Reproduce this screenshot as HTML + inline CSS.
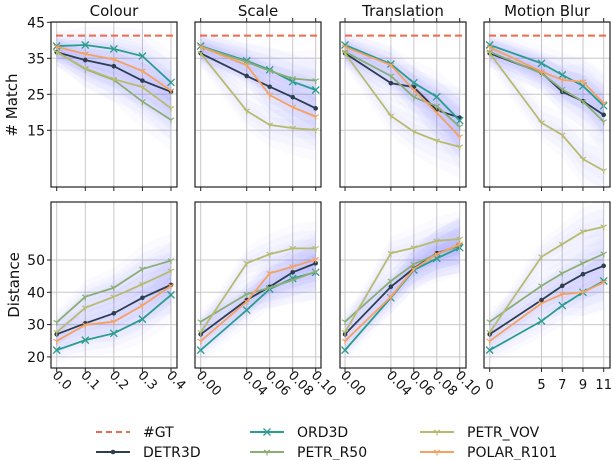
<!DOCTYPE html>
<html><head><meta charset="utf-8">
<style>
body{margin:0;background:#fff;}
svg{display:block;font-family:"DejaVu Sans","Liberation Sans",sans-serif;}
</style></head>
<body>
<svg id="chart" width="612" height="460" viewBox="0 0 612 460"></svg>
<script>
const panelTitles = ["Colour","Scale","Translation","Motion Blur"];
const xValues = [[0,0.1,0.2,0.3,0.4],[0,0.04,0.06,0.08,0.1],[0,0.04,0.06,0.08,0.1],[0,5,7,9,11]];
const xTickLabels = [["0.0","0.1","0.2","0.3","0.4"],["0.00","0.04","0.06","0.08","0.10"],["0.00","0.04","0.06","0.08","0.10"],["0","5","7","9","11"]];
const seriesNames = ["DETR3D","ORD3D","PETR_R50","PETR_VOV","POLAR_R101"];
const gtValue = 41.3;
const matchDETR3D = [[36.7,34.5,32.8,28.8,25.7],[36.4,30.1,27.1,24.2,21.1],[36.4,28.1,27.0,20.6,18.5],[36.4,31.0,25.7,23.1,19.3]];
const matchORD3D = [[38.4,38.7,37.6,35.6,28.3],[38.4,34.3,31.8,28.5,26.2],[38.7,33.4,28.2,24.3,17.7],[38.7,33.6,30.4,27.3,21.8]];
const matchPETR_R50 = [[36.8,32.0,29.0,23.0,17.9],[38.2,34.0,31.5,29.4,28.8],[36.8,30.1,24.2,21.7,16.0],[36.8,30.8,26.4,23.0,17.4]];
const matchPETR_VOV = [[36.7,32.2,29.2,27.0,21.1],[36.4,20.4,16.5,15.6,15.1],[36.4,19.0,14.6,12.1,10.4],[36.4,17.1,13.7,7.0,3.8]];
const matchPOLAR = [[38.2,36.2,34.7,31.5,26.0],[38.2,33.1,24.8,21.4,18.8],[38.2,33.1,26.2,19.9,13.2],[38.1,31.3,29.0,28.5,22.5]];
const distDETR3D = [[27.0,30.4,33.5,38.3,42.3],[27.0,37.6,41.7,46.2,49.0],[27.0,41.7,47.4,52.1,54.4],[27.0,37.6,42.0,45.6,48.2]];
const distORD3D = [[22.1,25.2,27.3,31.7,39.2],[22.1,34.5,41.0,44.3,46.2],[22.1,38.3,46.9,50.5,53.8],[22.1,31.1,35.9,40.0,43.5]];
const distPETR_R50 = [[30.7,38.6,41.4,47.2,49.8],[30.9,39.4,41.4,43.8,46.4],[30.9,43.5,48.7,51.8,54.6],[30.9,42.0,45.9,49.0,51.9]];
const distPETR_VOV = [[27.6,35.2,38.6,42.5,46.6],[27.6,49.0,51.8,53.6,53.6],[27.6,52.1,53.8,55.9,56.5],[27.6,51.0,54.9,58.8,60.3]];
const distPOLAR = [[24.9,29.9,30.9,35.9,42.0],[24.9,37.1,45.9,47.9,50.2],[24.9,38.6,47.2,51.8,54.9],[24.9,36.6,39.4,40.0,43.1]];
const matchTicks = [15,25,35,45];
const distTicks = [20,30,40,50];

const matchData=[matchDETR3D,matchORD3D,matchPETR_R50,matchPETR_VOV,matchPOLAR];
const distData=[distDETR3D,distORD3D,distPETR_R50,distPETR_VOV,distPOLAR];
const colors=["#2c3e50","#2a9d8f","#8aae74","#b8bb6e","#f4a261"];
const markers=["dot","x","tri","tri","tri"];
const NS="http://www.w3.org/2000/svg";
const svg=document.getElementById("chart");
function mk(tag,attrs,parent){const e=document.createElementNS(NS,tag);for(const k in attrs)e.setAttribute(k,attrs[k]);(parent||svg).appendChild(e);return e;}

const panelX=[[51,177],[195,321],[340,466],[484,610]];
const xRangeData=[[0,0.4],[0,0.1],[0,0.1],[0,11]];
const xPix=[[56.7,171],[200.7,315.7],[345,459.7],[489.7,603.7]];
function xs(p,v){const [d0,d1]=xRangeData[p],[r0,r1]=xPix[p];return r0+(v-d0)/(d1-d0)*(r1-r0);}
const rows=[{top:22,bot:187,ys:v=>22.3+(45-v)*3.6,ticks:matchTicks,data:matchData,label:"# Match",lab:"match"},
            {top:202,bot:368,ys:v=>260+(50-v)*3.23,ticks:distTicks,data:distData,label:"Distance",lab:"distance"}];

function marker(g,type,x,y,c){
  if(type==="dot"){mk("circle",{cx:x,cy:y,r:2.3,fill:c},g);}
  else if(type==="x"){mk("path",{d:`M${x-3.5},${y-3.5}L${x+3.5},${y+3.5}M${x-3.5},${y+3.5}L${x+3.5},${y-3.5}`,stroke:c,"stroke-width":1.3},g);}
  else{mk("path",{d:`M${x},${y}L${x},${y+3.5}M${x},${y}L${x-3},${y-2}M${x},${y}L${x+3},${y-2}`,stroke:c,"stroke-width":1.2},g);}
}

rows.forEach((row,ri)=>{
  for(let p=0;p<4;p++){
    const [L,R]=panelX[p];
    const pg=mk("g",{});
    
    
    row.ticks.forEach(t=>{const y=row.ys(t);mk("line",{x1:L,x2:R,y1:y,y2:y,stroke:"#c8c8c8","stroke-width":1},pg);});
    xValues[p].forEach(v=>{const x=xs(p,v);mk("line",{x1:x,x2:x,y1:row.top,y2:row.bot,stroke:"#c8c8c8","stroke-width":1},pg);});
    const clipId=`clip-${ri}-${p}`;
    const cp=mk("clipPath",{id:clipId},pg);
    mk("rect",{x:L,y:row.top,width:R-L,height:row.bot-row.top},cp);
    const bandG=mk("g",{"clip-path":`url(#${clipId})`},pg);
    row.data.forEach((s,si)=>{
      const vals=s[p];
      for(let k=1;k<=3;k++){
        const w=k*1.3;
        let d="";
        vals.forEach((v,i)=>{d+=(i?"L":"M")+xs(p,xValues[p][i])+","+row.ys(v+w*(1+i*0.3));});
        for(let i=vals.length-1;i>=0;i--)d+="L"+xs(p,xValues[p][i])+","+row.ys(vals[i]-w*(1+i*0.3));
        const b=mk("path",{d:d+"Z",fill:"#6b6bff","fill-opacity":0.032},bandG);
        
        
      }
    });
    if(ri===0){
      const gl=mk("line",{x1:L+5,x2:R-3,y1:row.ys(gtValue),y2:row.ys(gtValue),stroke:"#ee6a4d","stroke-width":2,"stroke-dasharray":"7,4"},pg);
      
      
    }
    row.data.forEach((s,si)=>{
      const vals=s[p];
      const sg=mk("g",{},pg);
      
      
      const pts=vals.map((v,i)=>xs(p,xValues[p][i])+","+row.ys(v)).join(" ");
      mk("polyline",{points:pts,fill:"none",stroke:colors[si],"stroke-width":1.8},sg);
      vals.forEach((v,i)=>marker(sg,markers[si],xs(p,xValues[p][i]),row.ys(v),colors[si]));
    });
    mk("rect",{x:L,y:row.top,width:R-L,height:row.bot-row.top,fill:"none",stroke:"#222","stroke-width":1.2},pg);
    xValues[p].forEach(v=>{const x=xs(p,v);mk("line",{x1:x,x2:x,y1:row.bot,y2:row.bot+4,stroke:"#222"},pg);
      if(ri===0&&p>0)mk("line",{x1:x,x2:x,y1:row.top,y2:row.top-4,stroke:"#222"},pg);});
    if(p===0){
      row.ticks.forEach(t=>{const y=row.ys(t);mk("line",{x1:L-4,x2:L,y1:y,y2:y,stroke:"#222"},pg);
        const tx=mk("text",{x:L-6,y:y+5,"text-anchor":"end","font-size":14,fill:"#111"},pg);tx.textContent=t;});
      const yl=mk("text",{x:0,y:0,"text-anchor":"middle","font-size":15,fill:"#111",transform:`translate(${ri?19:17},${ri?285:105}) rotate(-90)`},pg);
      yl.textContent=row.label;
      
      
    }
    if(ri===0){
      const tt=mk("text",{x:(L+R)/2,y:16,"text-anchor":"middle","font-size":15,fill:"#111"},pg);
      tt.textContent=panelTitles[p];
      
      
    }else{
      xValues[p].forEach((v,i)=>{const x=xs(p,v);
        const t=mk("text",{x:0,y:0,"font-size":13,fill:"#111",transform:p===3?`translate(${x},389)`:`translate(${x-5},376) rotate(45)`,"text-anchor":p===3?"middle":"start"},pg);
        t.textContent=xTickLabels[p][i];
        
        
      });
    }
  }
});

const legendItems=[["#GT",null,"#ee6a4d",96,432,true],["ORD3D","x",colors[1],250,432],["PETR_VOV","tri",colors[3],420,432],
                   ["DETR3D","dot",colors[0],96,452],["PETR_R50","tri",colors[2],250,452],["POLAR_R101","tri",colors[4],420,452]];
const lg=mk("g",{});


legendItems.forEach(it=>{
  const g=mk("g",{},lg);
  
  
  const [name,m,c,x,y,dash]=it;
  mk("line",{x1:x,x2:x+34,y1:y,y2:y,stroke:c,"stroke-width":2,"stroke-dasharray":dash?"6,4":"none"},g);
  if(m)marker(g,m,x+17,y,c);
  const t=mk("text",{x:x+47,y:y+5,"font-size":14,fill:"#111"},g);t.textContent=name;
});
</script>
</body></html>
